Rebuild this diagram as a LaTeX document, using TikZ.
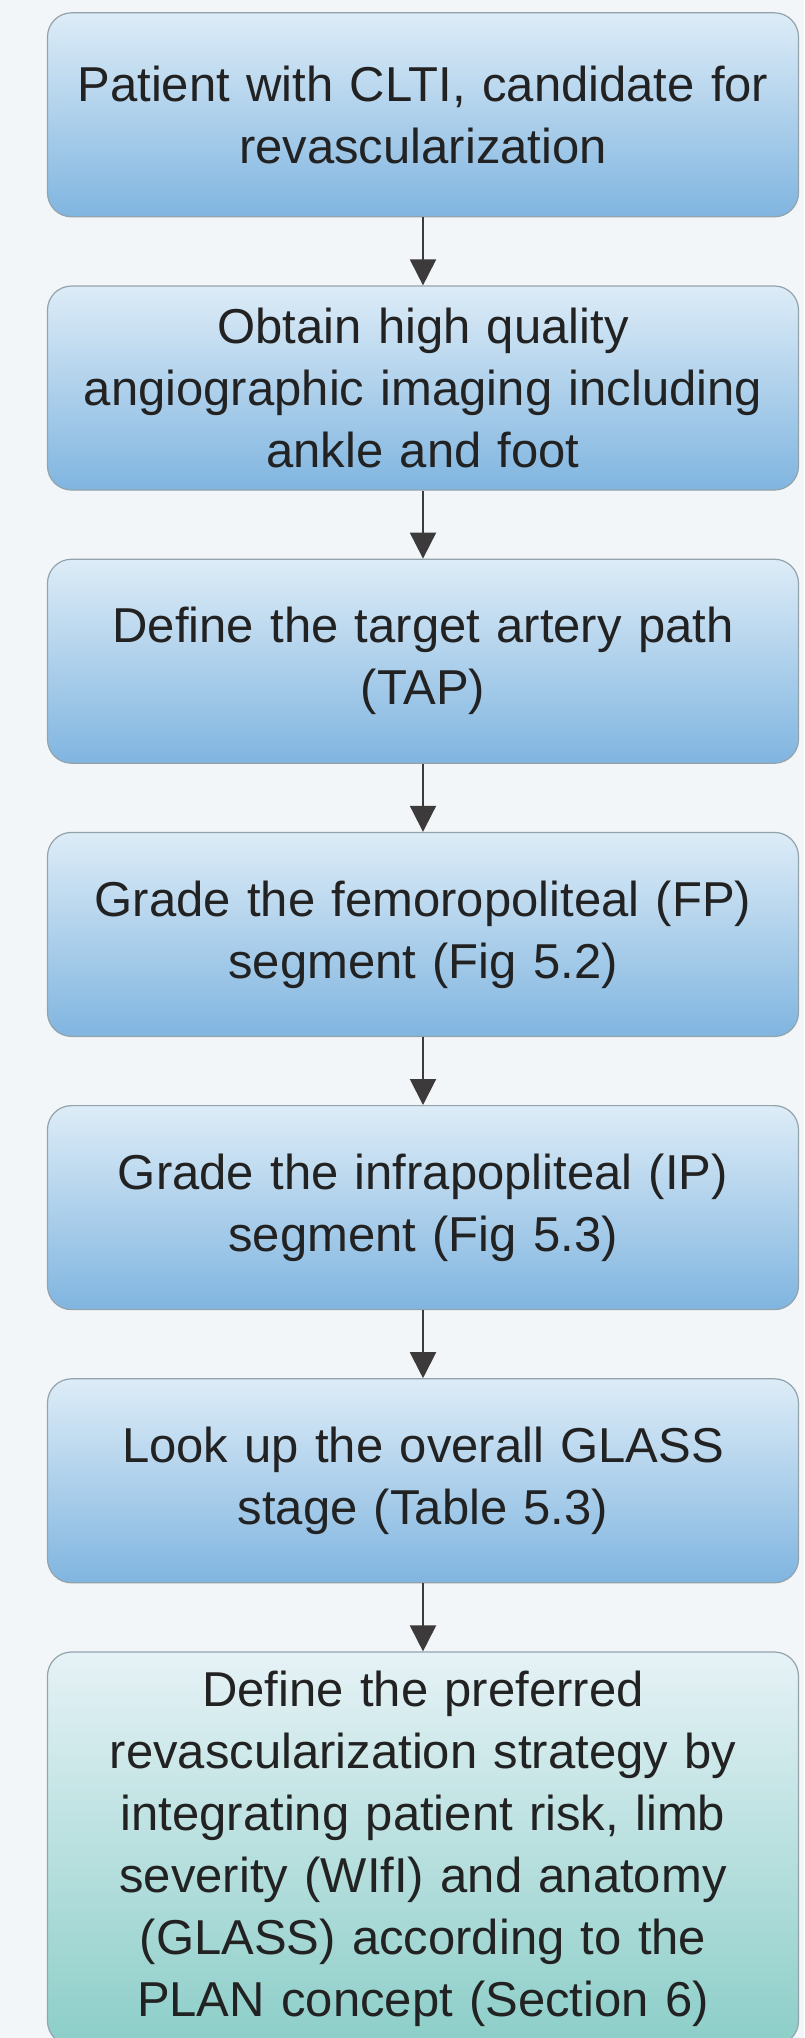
\documentclass[tikz,border=0pt]{standalone}
\usepackage{fontspec}
\setmainfont{Liberation Sans}
\usepackage{tikz}
\usetikzlibrary{matrix,positioning,arrows.meta}

\definecolor{paper}{HTML}{F3F6F8}
\definecolor{boxtop}{HTML}{DDECF7}
\definecolor{boxbot}{HTML}{80B5E0}
\definecolor{plantop}{HTML}{E6F2F6}
\definecolor{planbot}{HTML}{8CCEC8}
\definecolor{boxline}{HTML}{93A3AC}
\definecolor{ink}{HTML}{222222}
\definecolor{arrowc}{HTML}{3C3A3A}

\begin{document}
\begin{tikzpicture}[x=1pt,y=1pt,
flow/.style={draw=arrowc, line width=2pt, -{Triangle[width=26pt,length=26pt]}}]
\fill[paper] (0,0) rectangle (804,-2038);
\useasboundingbox (0,0) rectangle (804,-2038);
\matrix (M) [matrix of nodes, anchor=north, inner sep=0pt,
nodes={draw=boxline, line width=1.2pt, rounded corners=24pt, top color=boxtop, bottom color=boxbot,
  minimum width=751pt, minimum height=204pt, inner sep=10pt, text width=731pt, align=center,
  font=\fontsize{49}{62}\selectfont, text=ink, anchor=center},
row sep=68pt,
plan/.style={top color=plantop, bottom color=planbot, minimum height=393pt}
] at (423,-12)
{
	{Patient with CLTI, candidate for\\revascularization} \\
	{Obtain high quality\\angiographic imaging including\\ankle and foot} \\
	{Define the target artery path\\(TAP)} \\
	{Grade the femoropoliteal (FP)\\segment (Fig 5.2)} \\
	{Grade the infrapopliteal (IP)\\segment (Fig 5.3)} \\
	{Look up the overall GLASS\\stage (Table 5.3)} \\
	|[plan]| {Define the preferred\\revascularization strategy by\\integrating patient risk, limb\\severity (WIfI) and anatomy\\(GLASS) according to the\\PLAN concept (Section 6)} \\
};
\draw[flow] (M-1-1) -- (M-2-1);
\draw[flow] (M-2-1) -- (M-3-1);
\draw[flow] (M-3-1) -- (M-4-1);
\draw[flow] (M-4-1) -- (M-5-1);
\draw[flow] (M-5-1) -- (M-6-1);
\draw[flow] (M-6-1) -- (M-7-1);
\end{tikzpicture}
\end{document}
